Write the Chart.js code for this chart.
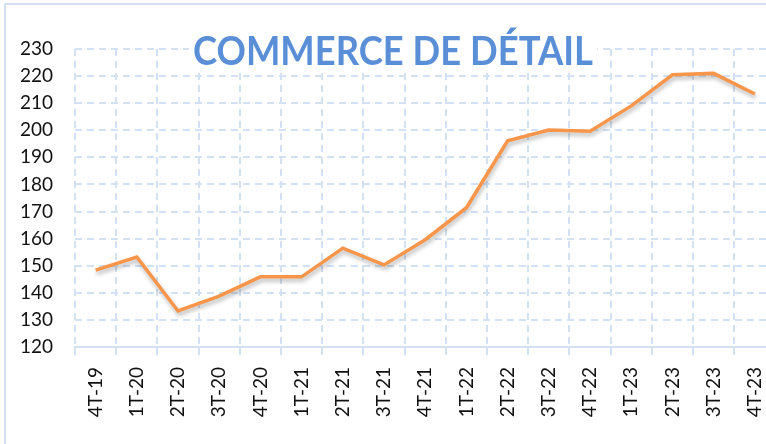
<!DOCTYPE html>
<html>
<head>
<meta charset="utf-8">
<script src="https://cdn.jsdelivr.net/npm/chart.js@4"></script>
<style>
  html, body { margin: 0; padding: 0; background: #fff; overflow: hidden; }
  .frame {
    position: absolute; left: 4px; top: 3px; width: 800px; height: 460px;
    border-left: 2px solid #d5e1f2; border-top: 2px solid #d5e1f2;
  }
  .wrap { position: absolute; left: 0; top: 0; width: 790px; height: 444px; }
</style>
</head>
<body>
<div class="frame"></div>
<div class="wrap"><canvas id="myChart"></canvas></div>
<script>
const quarters = ["4T-19", "1T-20", "2T-20", "3T-20", "4T-20", "1T-21", "2T-21", "3T-21", "4T-21",
                  "1T-22", "2T-22", "3T-22", "4T-22", "1T-23", "2T-23", "3T-23", "4T-23"];
const retailIndex = [148.4, 153.2, 133.3, 138.8, 145.9, 145.9, 156.5, 150.3, 159.6,
                     171.4, 196.1, 200.1, 199.6, 209.0, 220.5, 221.0, 213.4];
const yMin = 120;
const yMax = 230;
const chartTitle = "COMMERCE DE DÉTAIL";

const gridColor = "#d3e1f4";
const labelFont = { family: "Lato, 'Open Sans', sans-serif", size: 19 };

// draws the title inside the plot with a white box behind it
const titleBox = {
    id: "titleBox",
    afterDraw(chart) {
        const ctx = chart.ctx;
        const cx = 393, cy = 51;
        ctx.save();
        ctx.font = "bold 40px Lato, 'Open Sans', sans-serif";
        const w = ctx.measureText(chartTitle).width;
        const sx = 400 / w;
        ctx.fillStyle = "#ffffff";
        ctx.fillRect(cx - 204, cy - 19, 408, 38);
        ctx.translate(cx, cy);
        ctx.scale(sx, 1);
        ctx.fillStyle = "#5a8fd8";
        ctx.textAlign = "center";
        ctx.textBaseline = "middle";
        ctx.fillText(chartTitle, 0, 1);
        ctx.restore();
    }
};

// soft shadow under the line
const lineShadow = {
    id: "lineShadow",
    beforeDatasetDraw(chart) {
        const ctx = chart.ctx;
        ctx.save();
        ctx.shadowColor = "rgba(0,0,0,0.28)";
        ctx.shadowBlur = 4;
        ctx.shadowOffsetX = 1;
        ctx.shadowOffsetY = 3;
    },
    afterDatasetDraw(chart) {
        chart.ctx.restore();
    }
};

new Chart(document.getElementById("myChart").getContext("2d"), {
    type: "line",
    data: {
        labels: quarters,
        datasets: [{
            label: chartTitle,
            data: retailIndex,
            borderColor: "#f7964a",
            borderWidth: 3.5,
            pointRadius: 0,
            tension: 0,
            fill: false
        }]
    },
    options: {
        responsive: true,
        maintainAspectRatio: false,
        animation: false,
        layout: { padding: { top: 49, left: 0, right: 11, bottom: 0 } },
        plugins: {
            legend: { display: false },
            title: { display: false },
            tooltip: { enabled: false }
        },
        scales: {
            x: {
                offset: true,
                grid: {
                    offset: true,
                    color: gridColor,
                    lineWidth: 2,
                    tickBorderDash: [],
                    tickLength: 8,
                    drawTicks: true
                },
                border: { display: true, color: gridColor, width: 2, dash: [7, 5] },
                ticks: {
                    color: "#111",
                    font: labelFont,
                    maxRotation: 90,
                    minRotation: 90,
                    autoSkip: false,
                    padding: 12
                },
                afterFit(scale) { scale.height = 97; }
            },
            y: {
                min: yMin,
                max: yMax,
                grid: {
                    color: gridColor,
                    lineWidth: 2,
                    drawTicks: false
                },
                border: { display: false, dash: [7, 5] },
                ticks: {
                    stepSize: 10,
                    color: "#111",
                    font: labelFont,
                    padding: 22
                },
                afterFit(scale) { scale.width = 75; }
            }
        }
    },
    plugins: [lineShadow, titleBox]
});
</script>
</body>
</html>
